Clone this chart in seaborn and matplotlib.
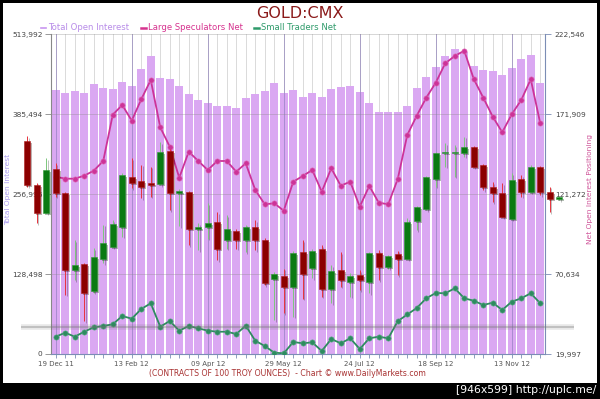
import numpy as np
import pandas as pd
import matplotlib
matplotlib.use("Agg")
import matplotlib.pyplot as plt
import matplotlib.patheffects as pe
from matplotlib.lines import Line2D
from matplotlib.patches import Rectangle
import seaborn as sns

plt.rcParams["font.family"] = ["DejaVu Sans"]

# weekly COT data, 19 Dec 11 .. Dec 12
tick_labels = ["19 Dec 11", "13 Feb 12", "09 Apr 12", "29 May 12",
               "24 Jul 12", "18 Sep 12", "13 Nov 12"]

open_interest = [424000, 419700, 422900, 418700, 433200, 427700, 425600, 436400, 431000, 457300,
                 479100, 443300, 442200, 431000, 417600, 408000, 403600, 398300, 398300, 395100,
                 411700, 417600, 421900, 435800, 419700, 424000, 412300, 418700, 413300, 425200,
                 429300, 431000, 420800, 403600, 388700, 388700, 388700, 398300, 426800, 444400,
                 460500, 478700, 489400, 485600, 462600, 456200, 455000, 447700, 459900, 474300,
                 479800, 434800]

large_spec = [132200, 130960, 130960, 132860, 136020, 142160, 171470, 177600, 167670, 181210,
              193430, 163490, 151210, 131590, 148050, 142160, 136460, 142160, 142160, 135390,
              140710, 123800, 114750, 115390, 110700, 129060, 132670, 136460, 122730, 137540,
              126530, 129060, 113230, 126340, 115770, 114750, 130770, 158620, 170830, 182230,
              191720, 204000, 208630, 211980, 194070, 182230, 170200, 160330, 171720, 180770,
              193880, 166030]

small_traders = [30950, 33480, 30950, 34110, 36900, 37720, 38800, 44050, 42340, 48480,
                 52090, 37280, 40890, 34750, 37720, 36270, 34750, 34110, 34110, 32660,
                 37910, 28420, 25060, 20820, 20440, 27590, 26770, 27400, 21900, 29490,
                 26770, 29930, 23160, 29930, 30950, 29930, 40760, 45000, 49110, 55250,
                 58610, 58420, 61580, 55250, 53730, 51010, 52470, 47850, 53100, 55250,
                 58420, 52090]

# gold price candles (start 3 weeks before the COT data)
gold_open = [1788, 1723, 1681, 1746, 1711, 1595, 1604, 1563, 1611, 1630, 1660, 1735, 1728, 1726,
             1724, 1774, 1710, 1712, 1656, 1659, 1667, 1640, 1654, 1640, 1659, 1640, 1581, 1586,
             1570, 1622, 1598, 1627, 1567, 1595, 1577, 1587, 1577, 1620, 1600, 1619, 1612, 1669,
             1687, 1732, 1770, 1770, 1770, 1779, 1752, 1720, 1710, 1672, 1731, 1712, 1750, 1712,
             1701]
gold_high = [1796, 1726, 1763, 1755, 1712, 1640, 1605, 1628, 1663, 1670, 1740, 1763, 1753, 1750,
             1787, 1776, 1716, 1714, 1665, 1695, 1682, 1677, 1656, 1663, 1670, 1643, 1592, 1597,
             1623, 1640, 1626, 1632, 1602, 1622, 1590, 1595, 1622, 1625, 1617, 1624, 1673, 1691,
             1736, 1772, 1785, 1782, 1795, 1781, 1754, 1727, 1725, 1740, 1737, 1752, 1751, 1720,
             1706]
gold_low = [1720, 1665, 1680, 1705, 1558, 1580, 1518, 1561, 1605, 1629, 1645, 1718, 1703, 1705,
            1722, 1685, 1661, 1632, 1625, 1642, 1610, 1627, 1627, 1622, 1625, 1572, 1520, 1530,
            1525, 1552, 1583, 1555, 1545, 1570, 1555, 1565, 1560, 1580, 1597, 1587, 1611, 1655,
            1685, 1720, 1750, 1735, 1765, 1749, 1715, 1697, 1674, 1671, 1705, 1711, 1707, 1682,
            1700]
gold_close = [1723, 1680, 1745, 1710, 1595, 1603, 1560, 1614, 1635, 1664, 1738, 1725, 1720, 1722,
              1772, 1710, 1713, 1657, 1659, 1665, 1627, 1656, 1640, 1660, 1640, 1575, 1589, 1569,
              1621, 1589, 1624, 1567, 1594, 1580, 1586, 1580, 1620, 1600, 1616, 1612, 1667, 1689,
              1734, 1770, 1772, 1771, 1779, 1750, 1720, 1710, 1675, 1730, 1712, 1750, 1712, 1702,
              1704]

weeks = np.arange(len(open_interest))
df = pd.DataFrame({"week": weeks, "oi": open_interest,
                   "spec": large_spec, "small": small_traders})

PURPLE = "#daa8f2"
MAGENTA = "#cc3399"
GREEN = "#2e8b60"

fig = plt.figure(figsize=(6, 3.99), dpi=100, facecolor="black")
fig.patches.append(Rectangle((3 / 600, 16 / 399), 594 / 600, 380 / 399,
                             transform=fig.transFigure, facecolor="white",
                             edgecolor="none", zorder=-10))

ax = fig.add_axes([51 / 600, 45 / 399, 494 / 600, 320 / 399])
ax.set_facecolor("white")

# open interest bars
sns.barplot(data=df, x="week", y="oi", color=PURPLE, saturation=1, width=0.8,
            ax=ax, zorder=2)
ax.set_xlim(-0.5, len(weeks) - 0.5)
ax.set_ylim(0, 513992)

for w in weeks:
    ax.axvline(w, color="#d4d4d4", lw=0.6, zorder=0.5)
for w in range(0, len(weeks), 8):
    ax.axvline(w, color="#8878b8", lw=0.7, alpha=0.6, zorder=3)
yt = np.linspace(0, 513992, 5)
for y in yt[1:]:
    ax.axhline(y, color="#8a8a8a", lw=0.6, alpha=0.4, zorder=3)

ax.set_yticks(yt)
ax.set_yticklabels([f"{v:,.0f}" for v in yt])
ax.set_xticks(range(0, len(weeks), 8))
ax.set_xticklabels(tick_labels)
ax.set_xticks(weeks, minor=True)
ax.set_xlabel("")
ax.set_ylabel("")
ax.tick_params(axis="y", direction="out", length=4, width=0.6, color="#888",
               labelsize=5.3, labelcolor="#444", pad=2)
ax.tick_params(axis="x", which="both", direction="out", length=3, width=0.6,
               color="#7b8db5", labelsize=5, labelcolor="#555", pad=2)
for s in ["top", "right"]:
    ax.spines[s].set_visible(False)
ax.spines["left"].set_color("#888")
ax.spines["bottom"].set_color("#7b8db5")
ax.spines["left"].set_linewidth(0.8)
ax.spines["bottom"].set_linewidth(0.8)

# net positioning lines
ax2 = ax.twinx()
sns.lineplot(data=df, x="week", y="spec", ax=ax2, color=MAGENTA, lw=1.3,
             marker="o", markersize=3.8, markeredgecolor="#e070b8",
             markeredgewidth=0.4)
sns.lineplot(data=df, x="week", y="small", ax=ax2, color=GREEN, lw=1.3,
             marker="o", markersize=3.8, markeredgecolor="#5fb088",
             markeredgewidth=0.4)
yt2 = np.linspace(19997, 222546, 5)
ax2.set_ylim(19997, 222546)
ax2.set_yticks(yt2)
ax2.set_yticklabels([f"{v:,.0f}" for v in yt2])
ax2.set_ylabel("")
ax2.tick_params(axis="y", direction="out", length=4, width=0.6, color="#7b8db5",
                labelsize=5.3, labelcolor="#444", pad=3)
for s in ["top", "left", "bottom"]:
    ax2.spines[s].set_visible(False)
ax2.spines["right"].set_color("#7b8db5")
ax2.spines["right"].set_linewidth(0.8)

# gold candles overlay, no axis of their own
ax3 = ax.twinx()
ax3.set_ylim(1469, 1949)
ax3.set_yticks([])
for s in ax3.spines.values():
    s.set_visible(False)
cx = np.arange(len(gold_open)) - 3
ax3.plot([cx[0] - 0.7, cx[-1] + 1.6], [1510, 1510], color="#666", lw=4,
         alpha=0.15, clip_on=False, solid_capstyle="butt")
ax3.plot([cx[0] - 0.7, cx[-1] + 1.6], [1510, 1510], color="#777", lw=1.1,
         alpha=0.45, clip_on=False, solid_capstyle="butt")
shadow = [pe.SimplePatchShadow(offset=(1.5, -1.5), alpha=0.3), pe.Normal()]
for x, o, h, l, c in zip(cx, gold_open, gold_high, gold_low, gold_close):
    up = c >= o
    wick = "#7cc77c" if up else "#e8323c"
    body = "#0a7a12" if up else "#8b0000"
    edge = "#2e9a36" if up else "#b01c1c"
    ax3.vlines(x, l, h, color=wick, lw=0.7, clip_on=False, zorder=2,
               path_effects=[pe.SimpleLineShadow(offset=(1.2, -1.2), alpha=0.25), pe.Normal()])
    ax3.bar(x, max(abs(c - o), 1.5), bottom=min(o, c), width=0.62, color=body,
            edgecolor=edge, linewidth=0.4, clip_on=False, zorder=3,
            path_effects=shadow)

# texts
fig.text(0.5, 1 - 13 / 399, "GOLD:CMX", ha="center", va="center",
         color="#8b1a1a", fontsize=11.5)
handles = [Line2D([], [], color="#c896f0", lw=1.2),
           Line2D([], [], color="#d6338f", lw=1.8),
           Line2D([], [], color="#2e9a6a", lw=1.8)]
fig.legend(handles, ["Total Open Interest", "Large Speculators Net", "Small Traders Net"],
           loc="center left", bbox_to_anchor=(41 / 600, 1 - 28 / 399), ncol=3,
           frameon=False, fontsize=6.1, handlelength=0.6, handletextpad=0.2,
           columnspacing=1.4, labelcolor=["#b88ce8", "#d6338f", "#2e9a6a"],
           borderaxespad=0, borderpad=0)
fig.text(8 / 600, 1 - 189 / 399, "Total Open Interest", rotation=90,
         ha="center", va="center", color="#a798ee", fontsize=5.4)
fig.text(590 / 600, 1 - 189 / 399, "Net Open Interest Positioning", rotation=90,
         ha="center", va="center", color="#d0559a", fontsize=5.4)
fig.text(287 / 600, 1 - 374 / 399,
         "(CONTRACTS OF 100 TROY OUNCES)  - Chart \u00a9 www.DailyMarkets.com",
         ha="center", va="center", color="#a83232", fontsize=5.6)
fig.text(596 / 600, 1 - 390 / 399, "[946x599] http://uplc.me/", ha="right",
         va="center", color="white", fontsize=7.8)

fig.savefig("out.png", dpi=100, facecolor=fig.get_facecolor())
